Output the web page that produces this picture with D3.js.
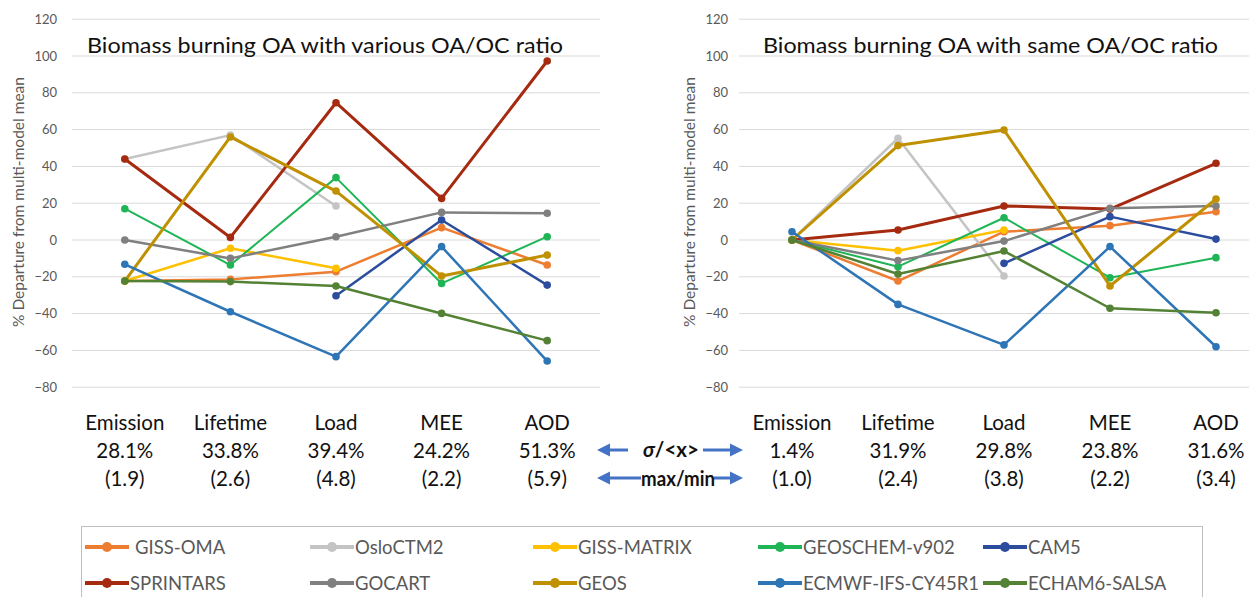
<!DOCTYPE html>
<html><head><meta charset="utf-8">
<script src="https://cdn.jsdelivr.net/npm/d3@7"></script>
<style>body{margin:0;background:#fff}svg{display:block}text{font-family:Lato,"Open Sans",sans-serif}</style>
</head><body>
<svg id="c" width="1249" height="597"></svg>
<script>
const categories = ["Emission","Lifetime","Load","MEE","AOD"];
const yTicks = [-80,-60,-40,-20,0,20,40,60,80,100,120];
const models = ["GISS-OMA","OsloCTM2","GISS-MATRIX","GEOSCHEM-v902","CAM5","SPRINTARS","GOCART","GEOS","ECMWF-IFS-CY45R1","ECHAM6-SALSA"];
const colors = ["#ED7D31","#C4C4C4","#FFC000","#1FB556","#2C4D9E","#A52A10","#808080","#BF9000","#2E75B6","#548235"];
const widths = [2.5,2.5,2.5,2,2.5,3,2.5,3,2.5,2.5];
// panel 1: various OA/OC ratio
const giss_oma_1 = [-22.3,-21.4,-17.2,6.7,-13.6];
const oslo_1 = [44,57,18.5,null,null];
const giss_matrix_1 = [-22.3,-4.5,-15.4,null,null];
const geoschem_1 = [17,-13.6,33.9,-23.6,1.8];
const cam5_1 = [null,null,-30.3,10.9,-24.5];
const sprintars_1 = [44,1.4,74.6,22.6,97.3];
const gocart_1 = [0,-10,1.8,15,14.5];
const geos_1 = [-22.3,56,26.6,-19.6,-8.2];
const ecmwf_1 = [-13.2,-39,-63.4,-3.6,-65.8];
const echam_1 = [-22.3,-22.6,-25,-39.9,-54.7];
// panel 2: same OA/OC ratio
const giss_oma_2 = [0,-22.3,4.5,7.8,15.4];
const oslo_2 = [0,55.3,-19.6,null,null];
const giss_matrix_2 = [0,-5.8,5.4,null,null];
const geoschem_2 = [0,-14.5,12.1,-20.5,-9.6];
const cam5_2 = [null,null,-12.7,12.7,0.5];
const sprintars_2 = [0,5.4,18.5,16.8,41.7];
const gocart_2 = [0,-11.2,-0.6,17.2,18.5];
const geos_2 = [0,51.3,59.8,-25,22.3];
const ecmwf_2 = [4.5,-35,-57,-3.6,-58];
const echam_2 = [0,-18.5,-6,-37.1,-39.5];
const titles = ["Biomass burning OA with various OA/OC ratio","Biomass burning OA with same OA/OC ratio"];
const yTitle = "% Departure from multi-model mean";
const cv_1 = ["28.1%","33.8%","39.4%","24.2%","51.3%"];
const ratio_1 = ["(1.9)","(2.6)","(4.8)","(2.2)","(5.9)"];
const cv_2 = ["1.4%","31.9%","29.8%","23.8%","31.6%"];
const ratio_2 = ["(1.0)","(2.4)","(3.8)","(2.2)","(3.4)"];

const series1 = [giss_oma_1,oslo_1,giss_matrix_1,geoschem_1,cam5_1,sprintars_1,gocart_1,geos_1,ecmwf_1,echam_1];
const series2 = [giss_oma_2,oslo_2,giss_matrix_2,geoschem_2,cam5_2,sprintars_2,gocart_2,geos_2,ecmwf_2,echam_2];

const svg = d3.select("#c");
const y = d3.scaleLinear().domain([-80,120]).range([387.2,19.2]);

const panels = [
  {x0:72,x1:600,gx1:600,series:series1,title:titles[0],tcx:325,tlen:476,lab:57,ytx:19,cv:cv_1,ratio:ratio_1},
  {x0:739,x1:1269,gx1:1249,series:series2,title:titles[1],tcx:990.5,tlen:455,lab:728,ytx:690,cv:cv_2,ratio:ratio_2}
];

panels.forEach(p=>{
  const x = d3.scalePoint().domain(categories).range([p.x0,p.x1]).padding(0.5);
  const g = svg.append("g");
  g.selectAll("line.grid").data(yTicks).join("line")
    .attr("x1",p.x0).attr("x2",p.gx1).attr("y1",d=>y(d)).attr("y2",d=>y(d))
    .attr("stroke","#D9D9D9").attr("stroke-width",1);
  const ax = d3.axisLeft(y).tickValues(yTicks).tickSize(0).tickPadding(0);
  const axg = svg.append("g").attr("transform",`translate(${p.lab},0)`).call(ax);
  axg.select(".domain").remove();
  axg.selectAll("text").attr("fill","#595959").style("font-size","13px").style("font-family","Lato");
  svg.append("text").attr("transform",`translate(${p.ytx+5},202) rotate(-90)`)
    .attr("text-anchor","middle").attr("fill","#595959").style("font-size","15.5px").text(yTitle);
  svg.append("text").attr("x",p.tcx).attr("y",53).attr("text-anchor","middle")
    .attr("textLength",p.tlen).attr("lengthAdjust","spacingAndGlyphs")
    .attr("fill","#111").style("font-size","21px").text(p.title);
  const line = d3.line().defined(d=>d!=null).x((d,i)=>x(categories[i])).y(d=>y(d));
  p.series.forEach((s,k)=>{
    const pts = s.map((v,i)=>({v,c:categories[i]})).filter(d=>d.v!=null);
    g.append("path").attr("d",line(s)).attr("fill","none").attr("stroke",colors[k])
      .attr("stroke-width",widths[k]).attr("stroke-linejoin","round");
    g.selectAll(null).data(pts).join("circle").attr("cx",d=>x(d.c)).attr("cy",d=>y(d.v))
      .attr("r",3.8).attr("fill",colors[k]);
  });
  const t = svg.append("g");
  const rows = [categories, p.cv, p.ratio];
  rows.forEach((row,r)=>{
    t.selectAll(null).data(row).join("text").attr("x",(d,i)=>x(categories[i])).attr("y",429.5+28*r)
      .attr("text-anchor","middle").style("font-size","20.5px").attr("fill","#111").text(d=>d);
  });
});

// arrows
function arrow(xa,xb,yy){
  const dir = xb>xa?1:-1;
  const hb = xb - dir*13;
  svg.append("line").attr("x1",xa).attr("x2",hb).attr("y1",yy).attr("y2",yy)
    .attr("stroke","#4472C4").attr("stroke-width",3);
  svg.append("path").attr("d",`M${xb},${yy}L${hb},${yy-6.5}L${hb},${yy+6.5}Z`).attr("fill","#4472C4");
}
arrow(628,597,450); arrow(703,743,450);
arrow(641,597,478); arrow(714,743,478);
svg.append("text").attr("x",671).attr("y",457).attr("text-anchor","middle")
  .style("font-size","20.5px").style("font-weight","bold").attr("fill","#111")
  .html('<tspan font-style="italic">σ</tspan>/&lt;x&gt;');
svg.append("text").attr("x",678).attr("y",485.5).attr("text-anchor","middle")
  .attr("textLength",74).attr("lengthAdjust","spacingAndGlyphs")
  .style("font-size","20px").style("font-weight","bold").attr("fill","#111").text("max/min");

// legend
svg.append("rect").attr("x",81.5).attr("y",526.5).attr("width",1121).attr("height",100)
  .attr("fill","none").attr("stroke","#BFBFBF");
const colX = [85,310,533,758,983];
models.forEach((m,k)=>{
  const cx = colX[k%5], cy = k<5?547:583;
  svg.append("line").attr("x1",cx).attr("x2",cx+44).attr("y1",cy).attr("y2",cy)
    .attr("stroke",colors[k]).attr("stroke-width",4);
  svg.append("circle").attr("cx",cx+22).attr("cy",cy).attr("r",5).attr("fill",colors[k]);
  svg.append("text").attr("x",cx+45+(k===0?5:0)).attr("y",cy+6.5).attr("fill","#595959")
    .style("font-size","18.5px").text(m);
});
</script>
</body></html>
